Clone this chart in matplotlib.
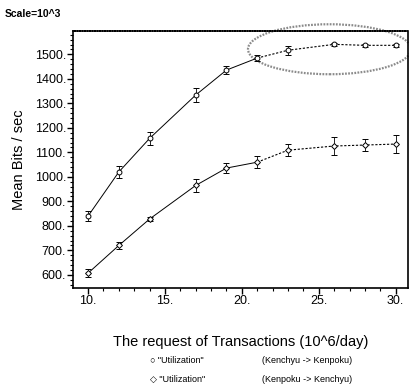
import matplotlib
matplotlib.use("Agg")
import matplotlib.pyplot as plt
from matplotlib.patches import Ellipse
from matplotlib.ticker import MultipleLocator, FormatStrFormatter

plt.rcParams['font.family'] = ['Liberation Sans', 'DejaVu Sans']

# transactions requested (10^6/day)
requests = [10, 12, 14, 17, 19, 21, 23, 26, 28, 30]

# Kenchyu -> Kenpoku (upper curve)
util_kk = [840, 1020, 1157, 1334, 1436, 1485, 1517, 1541, 1537, 1537]
err_kk = [20, 25, 25, 30, 15, 12, 18, 5, 6, 6]

# Kenpoku -> Kenchyu (lower curve)
util_kp = [607, 720, 828, 965, 1036, 1060, 1109, 1126, 1130, 1134]
err_kp = [15, 15, 8, 25, 20, 25, 25, 35, 25, 35]

fig = plt.figure(figsize=(4.10, 3.89), dpi=100)
ax = fig.add_axes([0.178, 0.26, 0.817, 0.66])

# solid for the first part, dotted where the curves level off
split = 6
for ys, es, mk in [(util_kk, err_kk, 'o'), (util_kp, err_kp, 'D')]:
    ax.plot(requests[:split], ys[:split], color='black', lw=0.7)
    ax.plot(requests[split - 1:], ys[split - 1:], color='black', lw=0.8, ls=(0, (2, 1.5)))
    ax.errorbar(requests, ys, yerr=es, fmt=mk, ms=3.5 if mk == 'o' else 3,
                mfc='white', mec='black', mew=0.7, ecolor='black',
                elinewidth=0.6, capsize=2, capthick=0.6, ls='none')

# highlight of the saturated region
ell = Ellipse((25.7, 1521), 10.6, 204, fill=False, ec='#8a8a8a', lw=1.6,
              ls=(0, (0.8, 0.6)), clip_on=False)
ax.add_patch(ell)

ax.set_xlim(9.02, 30.8)
ax.set_ylim(547, 1595)
ax.xaxis.set_major_locator(MultipleLocator(5))
ax.xaxis.set_minor_locator(MultipleLocator(1))
ax.yaxis.set_major_locator(MultipleLocator(100))
ax.yaxis.set_minor_locator(MultipleLocator(20))
ax.xaxis.set_major_formatter(FormatStrFormatter('%d.'))
ax.yaxis.set_major_formatter(FormatStrFormatter('%d.'))
ax.tick_params(which='major', direction='out', length=4, width=1, labelsize=9, pad=1)
ax.tick_params(which='minor', direction='out', length=2.5, width=0.8)
for s in ax.spines.values():
    s.set_linewidth(1.2)
ax.spines['top'].set_linestyle((0, (1, 0.5)))

ax.set_ylabel('Mean Bits / sec', fontsize=10.5, labelpad=6)
ax.set_xlabel('The request of Transactions (10^6/day)', fontsize=10.5, labelpad=20)

fig.text(0.012, 0.965, 'Scale=10^3', fontsize=7.5, fontweight='bold', va='center')

fig.text(0.365, 0.072, '\u25cb "Utilization"', fontsize=6.5, va='center')
fig.text(0.638, 0.072, '(Kenchyu -> Kenpoku)', fontsize=6.5, va='center')
fig.text(0.365, 0.024, '\u25c7 "Utilization"', fontsize=6.5, va='center')
fig.text(0.638, 0.024, '(Kenpoku -> Kenchyu)', fontsize=6.5, va='center')

fig.savefig('out.png', dpi=100)
